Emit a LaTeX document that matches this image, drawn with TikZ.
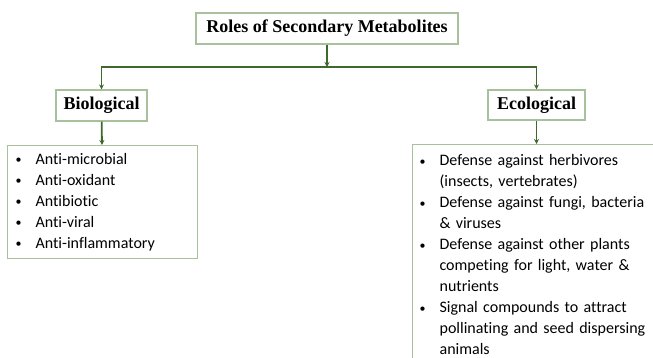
\documentclass[tikz,border=0pt]{standalone}
\usepackage{fontspec}
\setmainfont{Liberation Serif}
\newfontfamily\listfont[Ligatures=NoCommon]{Carlito}
\usetikzlibrary{arrows.meta}
\newcommand\bul{\makebox[20pt][l]{\raisebox{0.6pt}{\fontsize{12}{12}\selectfont\textbullet}}}
\newcommand\bulgap{\hspace*{20pt}}
\begin{document}
\begin{tikzpicture}[x=1pt,y=-1pt]
\definecolor{BoxGreen}{RGB}{168,192,155}
\definecolor{LinkGreen}{RGB}{62,104,44}
\tikzset{
head/.style={draw=BoxGreen, line width=1.2pt, font=\fontsize{18}{21}\selectfont\bfseries, inner sep=0pt, minimum height=31},
items/.style={draw=BoxGreen, line width=1.2pt, anchor=north west, align=left, font=\listfont\fontsize{16}{21}\selectfont, inner xsep=8pt},
link/.style={draw=LinkGreen, line width=1.8pt, line join=miter, -{Stealth[length=5pt,width=5pt]}}
}
\clip (0,0) rectangle (653,358);
\node[head, minimum width=262] (title) at (327,28.5) {Roles of Secondary Metabolites};
\node[head, minimum width=91] (bio) at (101.5,105.5) {Biological};
\node[head, minimum width=97, minimum height=30] (eco) at (536.5,105) {Ecological};
\node[items, text width=174, minimum height=113] (biolist) at (7,145) {\bul Anti-microbial\\ \bul Anti-oxidant\\ \bul Antibiotic\\ \bul Anti-viral\\ \bul Anti-inflammatory};
\node[items, text width=250, inner xsep=7pt, inner ysep=10pt] (ecolist) at (412,144) {\bul Defense against herbivores\\ \bulgap(insects, vertebrates)\\ \bul Defense against fungi, bacteria\\ \bulgap\& viruses\\ \bul Defense against other plants\\ \bulgap competing for light, water \&\\ \bulgap nutrients\\ \bul Signal compounds to attract\\ \bulgap pollinating and seed dispersing\\ \bulgap animals};
\coordinate (hub) at (327,67);
\draw[link] (title) -- (hub);
\draw[link] (hub) -| (bio);
\draw[link] (hub) -| (eco);
\draw[link] (bio) -- (biolist);
\draw[link] (eco) -- (eco.south |- ecolist.north);
\end{tikzpicture}
\end{document}
